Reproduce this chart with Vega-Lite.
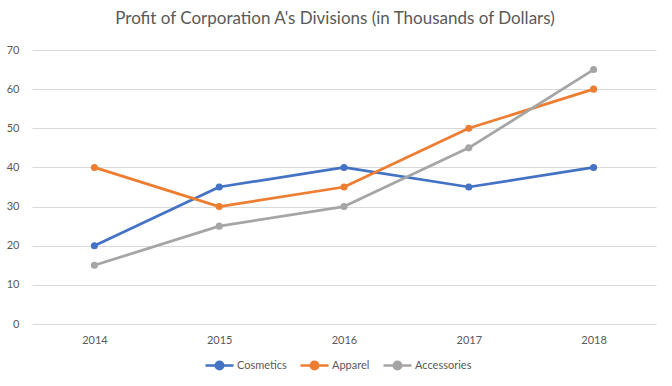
{
  "$schema": "https://vega.github.io/schema/vega-lite/v6.json",
  "width": 624,
  "height": 274,
  "autosize": {"type": "none"},
  "padding": {"left": 32, "top": 50, "right": 16, "bottom": 62},
  "background": "#ffffff",
  "title": {
    "text": "Profit of Corporation A's Divisions (in Thousands of Dollars)",
    "font": "Lato",
    "fontSize": 17,
    "fontWeight": "normal",
    "color": "#595959",
    "anchor": "middle",
    "dx": -9,
    "offset": 16
  },
  "data": {
    "values": [
      {"year": "2014", "series": "Cosmetics", "value": 20},
      {"year": "2015", "series": "Cosmetics", "value": 35},
      {"year": "2016", "series": "Cosmetics", "value": 40},
      {"year": "2017", "series": "Cosmetics", "value": 35},
      {"year": "2018", "series": "Cosmetics", "value": 40},
      {"year": "2014", "series": "Apparel", "value": 40},
      {"year": "2015", "series": "Apparel", "value": 30},
      {"year": "2016", "series": "Apparel", "value": 35},
      {"year": "2017", "series": "Apparel", "value": 50},
      {"year": "2018", "series": "Apparel", "value": 60},
      {"year": "2014", "series": "Accessories", "value": 15},
      {"year": "2015", "series": "Accessories", "value": 25},
      {"year": "2016", "series": "Accessories", "value": 30},
      {"year": "2017", "series": "Accessories", "value": 45},
      {"year": "2018", "series": "Accessories", "value": 65}
    ]
  },
  "encoding": {
    "x": {
      "field": "year",
      "type": "ordinal",
      "scale": {"type": "point", "padding": 0.5},
      "axis": {
        "title": null,
        "labelAngle": 0,
        "domain": false,
        "ticks": false,
        "grid": false,
        "labelPadding": 10,
        "labelFont": "Lato",
        "labelFontSize": 11,
        "labelColor": "#595959"
      }
    },
    "y": {
      "field": "value",
      "type": "quantitative",
      "scale": {"domain": [0, 70]},
      "axis": {
        "title": null,
        "values": [0, 10, 20, 30, 40, 50, 60, 70],
        "domain": false,
        "ticks": false,
        "gridColor": "#d9d9d9",
        "gridWidth": 1,
        "labelPadding": 13,
        "labelFont": "Lato",
        "labelFontSize": 11,
        "labelColor": "#595959"
      }
    },
    "color": {
      "field": "series",
      "type": "nominal",
      "sort": ["Cosmetics", "Apparel", "Accessories"],
      "scale": {
        "domain": ["Cosmetics", "Apparel", "Accessories"],
        "range": ["#4472C4", "#ED7D31", "#A5A5A5"]
      },
      "legend": {
        "title": null,
        "orient": "none",
        "direction": "horizontal",
        "legendX": 172,
        "legendY": 300,
        "gridAlign": "none",
        "symbolType": "M-1,0H1M-0.27,0A0.27,0.27 0 1,1 0.27,0A0.27,0.27 0 1,1 -0.27,0Z",
        "symbolSize": 784,
        "symbolStrokeWidth": 2.5,
        "symbolOpacity": 1,
        "labelFont": "Lato",
        "labelFontSize": 11,
        "labelColor": "#595959",
        "labelOffset": 2,
        "columnPadding": 8
      }
    },
    "order": {"field": "series", "type": "nominal"}
  },
  "layer": [
    {
      "mark": {"type": "line", "strokeWidth": 2.75, "strokeCap": "round", "strokeJoin": "round"}
    },
    {
      "mark": {"type": "point", "filled": true, "size": 50, "opacity": 1}
    }
  ],
  "config": {
    "view": {"stroke": null}
  }
}
